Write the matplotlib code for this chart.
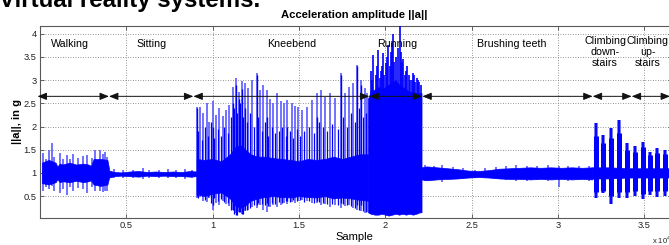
import matplotlib
matplotlib.use('Agg')
import matplotlib.pyplot as plt

plt.rcParams['font.family'] = ['Liberation Sans', 'DejaVu Sans']
plt.rcParams['mathtext.fontset'] = 'custom'
plt.rcParams['mathtext.rm'] = 'Liberation Sans'

BLUE = '#0000ff'
LIGHT = '#5a5aff'

# ---------------- data (samples, g) ----------------
seg_edges = [-150, 3990, 8880, 19075, 22145, 32015, 34275, 36500]
arrow_y = 2.65
act_labels = ["Walking", "Sitting", "Kneebend", "Running", "Brushing teeth",
              "Climbing\ndown-\nstairs", "Climbing\nup-\nstairs"]
label_x = [1715, 6480, 14595, 20680, 27310, 32730, 35220]
label_y = [3.77, 3.77, 3.77, 3.77, 3.77, 3.61, 3.61]

# dark signal core envelope per segment
walk_x = [100, 500, 900, 1000, 1150, 1300, 1700, 2100, 2500, 2800, 2950, 3100, 3500, 3900, 4000]
walk_lo = [0.78, 0.75, 0.80, 0.86, 0.80, 0.82, 0.80, 0.83, 0.80, 0.82, 0.84, 0.75, 0.72, 0.75, 0.90]
walk_hi = [1.22, 1.28, 1.22, 1.14, 1.20, 1.18, 1.22, 1.18, 1.20, 1.18, 1.15, 1.30, 1.30, 1.28, 1.08]

sit_x = [4000, 4300, 4700, 5200, 5700, 6200, 6700, 7200, 7700, 8200, 8700, 9070]
sit_lo = [0.90, 0.93, 0.94, 0.93, 0.92, 0.94, 0.93, 0.94, 0.93, 0.93, 0.92, 0.93]
sit_hi = [1.05, 1.02, 1.01, 1.03, 1.04, 1.02, 1.03, 1.02, 1.03, 1.02, 1.04, 1.03]

knee_x = [9070, 9500, 10000, 10500, 11000, 11300, 11600, 11900, 12200, 12600, 13000, 13500,
          14000, 14500, 15000, 15500, 16000, 16500, 17000, 17500, 18000, 18500, 19000]
knee_lo = [0.55, 0.50, 0.55, 0.58, 0.45, 0.30, 0.25, 0.30, 0.40, 0.45, 0.48, 0.50,
           0.48, 0.47, 0.50, 0.48, 0.47, 0.50, 0.45, 0.47, 0.45, 0.42, 0.40]
knee_hi = [1.30, 1.28, 1.30, 1.25, 1.40, 1.55, 1.60, 1.50, 1.40, 1.35, 1.35, 1.32,
           1.30, 1.28, 1.25, 1.30, 1.28, 1.30, 1.35, 1.30, 1.35, 1.40, 1.40]

run_x = [19000, 19150, 19400, 19600, 19800, 20000, 20200, 20400, 20600, 20800, 21000,
         21200, 21400, 21600, 21800, 22000, 22100]
run_lo = [0.15, 0.12, 0.10, 0.10, 0.12, 0.10, 0.08, 0.10, 0.12, 0.10, 0.12,
          0.10, 0.12, 0.10, 0.12, 0.15, 0.15]
run_hi = [2.60, 2.75, 2.80, 2.85, 2.80, 2.85, 2.90, 2.95, 3.00, 2.90, 2.85,
          2.80, 2.75, 2.75, 2.72, 2.72, 2.72]

brush_x = [22100, 22400, 23000, 23600, 24200, 24800, 25400, 26000, 26600, 27200, 27800,
           28400, 29000, 29600, 30200, 30800, 31400, 32000]
brush_lo = [0.86, 0.84, 0.86, 0.87, 0.88, 0.90, 0.91, 0.90, 0.88, 0.87, 0.87,
            0.86, 0.87, 0.86, 0.87, 0.86, 0.87, 0.86]
brush_hi = [1.12, 1.14, 1.12, 1.10, 1.08, 1.05, 1.04, 1.06, 1.09, 1.10, 1.11,
            1.12, 1.11, 1.12, 1.11, 1.12, 1.11, 1.12]

climb_x = [32000, 33000, 34000, 35000, 36600]
climb_lo = [0.88, 0.88, 0.90, 0.90, 0.90]
climb_hi = [1.12, 1.12, 1.10, 1.10, 1.10]

# light (thin) spikes
walk_spk_x = [190, 350, 535, 670, 800, 1150, 1300, 1540, 1750, 1925, 2200, 2500, 2700,
              3000, 3180, 3470, 3650, 3760, 3900]
walk_spk_lo = [0.62, 0.70, 0.65, 0.72, 0.60, 0.56, 0.65, 0.52, 0.70, 0.60, 0.68, 0.66, 0.56,
               0.70, 0.60, 0.62, 0.58, 0.60, 0.62]
walk_spk_hi = [1.42, 1.30, 1.50, 1.64, 1.35, 1.42, 1.30, 1.38, 1.30, 1.40, 1.32, 1.36, 1.39,
               1.32, 1.49, 1.50, 1.40, 1.45, 1.35]

sit_spk_x = [4300, 4800, 5400, 5950, 6300, 6900, 7400, 7900, 8400, 8800]
sit_spk_lo = [0.88, 0.90, 0.88, 0.86, 0.90, 0.89, 0.88, 0.90, 0.87, 0.88]
sit_spk_hi = [1.08, 1.06, 1.07, 1.10, 1.06, 1.07, 1.08, 1.06, 1.09, 1.07]

knee_spk_x = [9080, 9264, 9457, 9650, 9805, 10000, 10191, 10385, 10577, 10770,
              10964, 11157, 11350, 11504, 11678, 11871, 12064, 12258, 12547, 12740,
              12933, 13128, 13320, 13513, 13707, 13937, 14130, 14324, 14576, 14768,
              14961, 15155, 15445, 15734, 16024, 16275, 16507, 16796, 17086, 17414,
              17665, 17916, 18148, 18380, 18592, 18824, 18959]
knee_spk_hi = [2.43, 2.43, 2.29, 2.50, 2.10, 2.54, 2.25, 2.39, 2.22, 2.36,
               2.46, 2.86, 3.04, 2.75, 2.97, 2.93, 2.82, 3.00, 3.15, 2.79,
               2.90, 2.79, 2.60, 2.50, 2.72, 2.54, 2.50, 2.57, 2.50, 2.45,
               2.43, 2.36, 2.43, 2.57, 2.72, 2.79, 2.64, 2.72, 2.61, 3.15,
               2.72, 2.86, 2.93, 3.32, 3.00, 2.82, 2.72]
knee_spk_lo = [0.45, 0.49, 0.40, 0.38, 0.45, 0.20, 0.35, 0.30, 0.40, 0.32,
               0.28, 0.20, 0.13, 0.15, 0.12, 0.18, 0.20, 0.27, 0.25, 0.30,
               0.20, 0.16, 0.27, 0.30, 0.27, 0.30, 0.35, 0.32, 0.38, 0.35,
               0.40, 0.42, 0.40, 0.35, 0.35, 0.30, 0.33, 0.27, 0.30, 0.25,
               0.28, 0.30, 0.24, 0.20, 0.18, 0.13, 0.15]

brush_spk_x = [22300, 22800, 23300, 23900, 24500, 25200, 25800, 26400, 27000, 27600,
               28200, 28800, 29400, 30060, 30600, 31200, 31800]
brush_spk_lo = [0.82, 0.84, 0.80, 0.86, 0.87, 0.90, 0.88, 0.86, 0.84, 0.83,
                0.82, 0.84, 0.82, 0.70, 0.83, 0.84, 0.83]
brush_spk_hi = [1.16, 1.14, 1.18, 1.13, 1.10, 1.06, 1.10, 1.12, 1.14, 1.16,
                1.15, 1.14, 1.17, 1.15, 1.15, 1.14, 1.15]

# dark (saturated) kneebend strokes
knee_mid_x = [9170, 9360, 9550, 9730, 9900, 10100, 10290, 10480, 10670, 10870,
              11060, 11250, 11430, 11590, 11770, 11970, 12160, 12400, 12640, 12840,
              13030, 13220, 13420, 13610, 13820, 14030, 14230, 14450, 14670, 14860,
              15060, 15300, 15590, 15880, 16150, 16390, 16650, 16940, 17250, 17540,
              17790, 18030, 18260, 18490, 18710, 18890]
knee_mid_hi = [1.90, 1.70, 2.00, 1.80, 2.10, 1.75, 1.95, 1.80, 2.00, 1.85,
               2.20, 2.40, 2.30, 2.50, 2.20, 2.10, 2.30, 2.00, 2.20, 1.90,
               2.10, 1.80, 2.00, 1.85, 1.90, 2.00, 1.80, 1.90, 1.75, 1.95,
               1.80, 1.90, 2.00, 1.85, 2.10, 2.00, 1.90, 2.05, 1.95, 2.20,
               2.00, 2.30, 2.10, 2.40, 2.20, 2.30]
knee_mid_lo = [0.45, 0.50, 0.42, 0.48, 0.35, 0.45, 0.40, 0.44, 0.38, 0.35,
               0.20, 0.12, 0.10, 0.15, 0.12, 0.20, 0.25, 0.30, 0.35, 0.32,
               0.30, 0.28, 0.35, 0.32, 0.38, 0.35, 0.40, 0.38, 0.42, 0.40,
               0.42, 0.38, 0.40, 0.36, 0.38, 0.35, 0.32, 0.34, 0.30, 0.32,
               0.30, 0.28, 0.25, 0.20, 0.18, 0.16]

dark_x = [9080, 10000, 11157, 11350, 11504, 11678, 11871, 12547, 13128, 14324, 16024,
          17414, 18380, 18592]
dark_lo = [0.50, 0.30, 0.20, 0.10, 0.15, 0.12, 0.20, 0.30, 0.35, 0.40, 0.40,
           0.35, 0.30, 0.30]
dark_hi = [2.40, 2.00, 2.50, 2.90, 2.60, 2.80, 2.40, 3.10, 2.20, 2.00, 2.20,
           3.10, 3.30, 2.90]

# running: strokes rising above the solid block
run_spk_x = [19150, 19230, 19305, 19450, 19520, 19596, 19680, 19750, 19810, 19885,
             19950, 20020, 20100, 20174, 20250, 20330, 20400, 20465, 20530, 20600,
             20720, 20850, 20920, 20987, 21044, 21120, 21200, 21280, 21350, 21440,
             21526, 21580, 21650, 21730, 21816, 21880, 21950, 22050]
run_spk_hi = [3.20, 3.00, 3.54, 3.10, 3.30, 3.65, 3.05, 3.20, 3.30, 3.58,
              3.10, 3.36, 3.50, 3.76, 3.30, 3.60, 3.80, 4.00, 3.40, 3.50,
              3.70, 4.17, 3.60, 3.40, 3.45, 3.10, 3.20, 3.30, 3.10, 3.00,
              3.00, 3.15, 3.10, 2.95, 3.05, 3.00, 2.95, 2.90]
run_spk_lo = [2.40] * len(run_spk_x)

# stair-climbing step bursts
burst_x = [32200, 32620, 33060, 33530, 34000, 34440, 34920, 35340, 35720, 36230]
burst_lo = [0.45, 0.56, 0.34, 0.45, 0.45, 0.50, 0.44, 0.52, 0.48, 0.50]
burst_hi = [2.07, 1.82, 1.96, 2.14, 1.64, 1.58, 1.67, 1.46, 1.53, 1.50]
burst_body_lo = [0.58, 0.62, 0.50, 0.58, 0.58, 0.60, 0.55, 0.62, 0.60, 0.60]
burst_body_hi = [1.80, 1.65, 1.75, 1.85, 1.50, 1.45, 1.55, 1.38, 1.42, 1.40]

xtick_vals = [5000, 10000, 15000, 20000, 25000, 30000, 35000]
xtick_labels = ['0.5', '1', '1.5', '2', '2.5', '3', '3.5']
ytick_vals = [0.5, 1, 1.5, 2, 2.5, 3, 3.5, 4]
ytick_labels = ['0.5', '1', '1.5', '2', '2.5', '3', '3.5', '4']

# ---------------- figure ----------------
W, H = 669, 245
fig = plt.figure(figsize=(W / 100, H / 100), dpi=100)
ax = fig.add_axes([40.1 / W, 27 / H, (671.8 - 40.1) / W, 192 / H])
ax.set_xlim(0, 36600)
ax.set_ylim(0.028, 4.166)

# light spikes
for xs, lo, hi in [(walk_spk_x, walk_spk_lo, walk_spk_hi),
                   (sit_spk_x, sit_spk_lo, sit_spk_hi),
                   (knee_spk_x, knee_spk_lo, knee_spk_hi),
                   (brush_spk_x, brush_spk_lo, brush_spk_hi)]:
    ax.vlines(xs, lo, hi, color=LIGHT, lw=1.2, zorder=2)

# dark cores
for xs, lo, hi in [(walk_x, walk_lo, walk_hi), (sit_x, sit_lo, sit_hi),
                   (knee_x, knee_lo, knee_hi), (run_x, run_lo, run_hi),
                   (brush_x, brush_lo, brush_hi), (climb_x, climb_lo, climb_hi)]:
    ax.fill_between(xs, lo, hi, color=BLUE, lw=0.5, zorder=3)

ax.vlines(knee_mid_x, knee_mid_lo, knee_mid_hi, color=BLUE, lw=0.9, zorder=3)
ax.vlines(dark_x, dark_lo, dark_hi, color=BLUE, lw=1.0, zorder=3)
ax.vlines(run_spk_x, run_spk_lo, run_spk_hi, color=BLUE, lw=1.2, zorder=3)
ax.vlines(burst_x, burst_lo, burst_hi, color=LIGHT, lw=2.6, zorder=3)
ax.vlines(burst_x, burst_lo, burst_hi, color=BLUE, lw=1.3, zorder=3)
ax.vlines(burst_x, burst_body_lo, burst_body_hi, color=BLUE, lw=3.6, zorder=3)

# grid / axes styling
ax.set_xticks(xtick_vals)
ax.set_xticklabels(xtick_labels)
ax.set_yticks(ytick_vals)
ax.set_yticklabels(ytick_labels)
ax.grid(True, ls=(0, (1, 2)), color='0.45', lw=0.6)
ax.set_axisbelow(True)
ax.tick_params(direction='in', length=3, width=0.6, top=True, right=True,
               labelsize=6.7, pad=2.5, color='0.3', labelcolor='#222222')
for sp in ax.spines.values():
    sp.set_color('0.35')
    sp.set_linewidth(0.8)

# activity arrows
for i in range(len(seg_edges) - 1):
    ax.annotate('', xy=(seg_edges[i + 1], arrow_y), xytext=(seg_edges[i], arrow_y),
                arrowprops=dict(arrowstyle='<|-|>,head_length=0.55,head_width=0.22',
                                mutation_scale=10, color='#111111', lw=0.7,
                                shrinkA=0, shrinkB=0),
                annotation_clip=False, zorder=6)

for lx, ly, lab in zip(label_x, label_y, act_labels):
    ax.text(lx, ly, lab, ha='center', va='center', fontsize=7.7,
            linespacing=1.15, zorder=7, clip_on=False)

# texts
fig.text(354 / W, 1 - 15 / H, 'Acceleration amplitude ||a||', ha='center', va='center',
         fontsize=8.1, fontweight='bold')
fig.text(354 / W, (H - 236.7) / H, 'Sample', ha='center', va='center', fontsize=8)
fig.text(17 / W, 1 - 122 / H, '||a||, in g', rotation=90, ha='center', va='center',
         fontsize=8, fontweight='bold')
fig.text(652 / W, 5 / H, r'x 10$^{4}$', ha='left', va='center', fontsize=5.5,
         color='#222222')
fig.text(260 / W, 1 - 6.5 / H, 'Virtual reality systems.', ha='right', va='baseline',
         fontsize=17.3, fontweight='bold')

fig.savefig('out.png', dpi=100)
